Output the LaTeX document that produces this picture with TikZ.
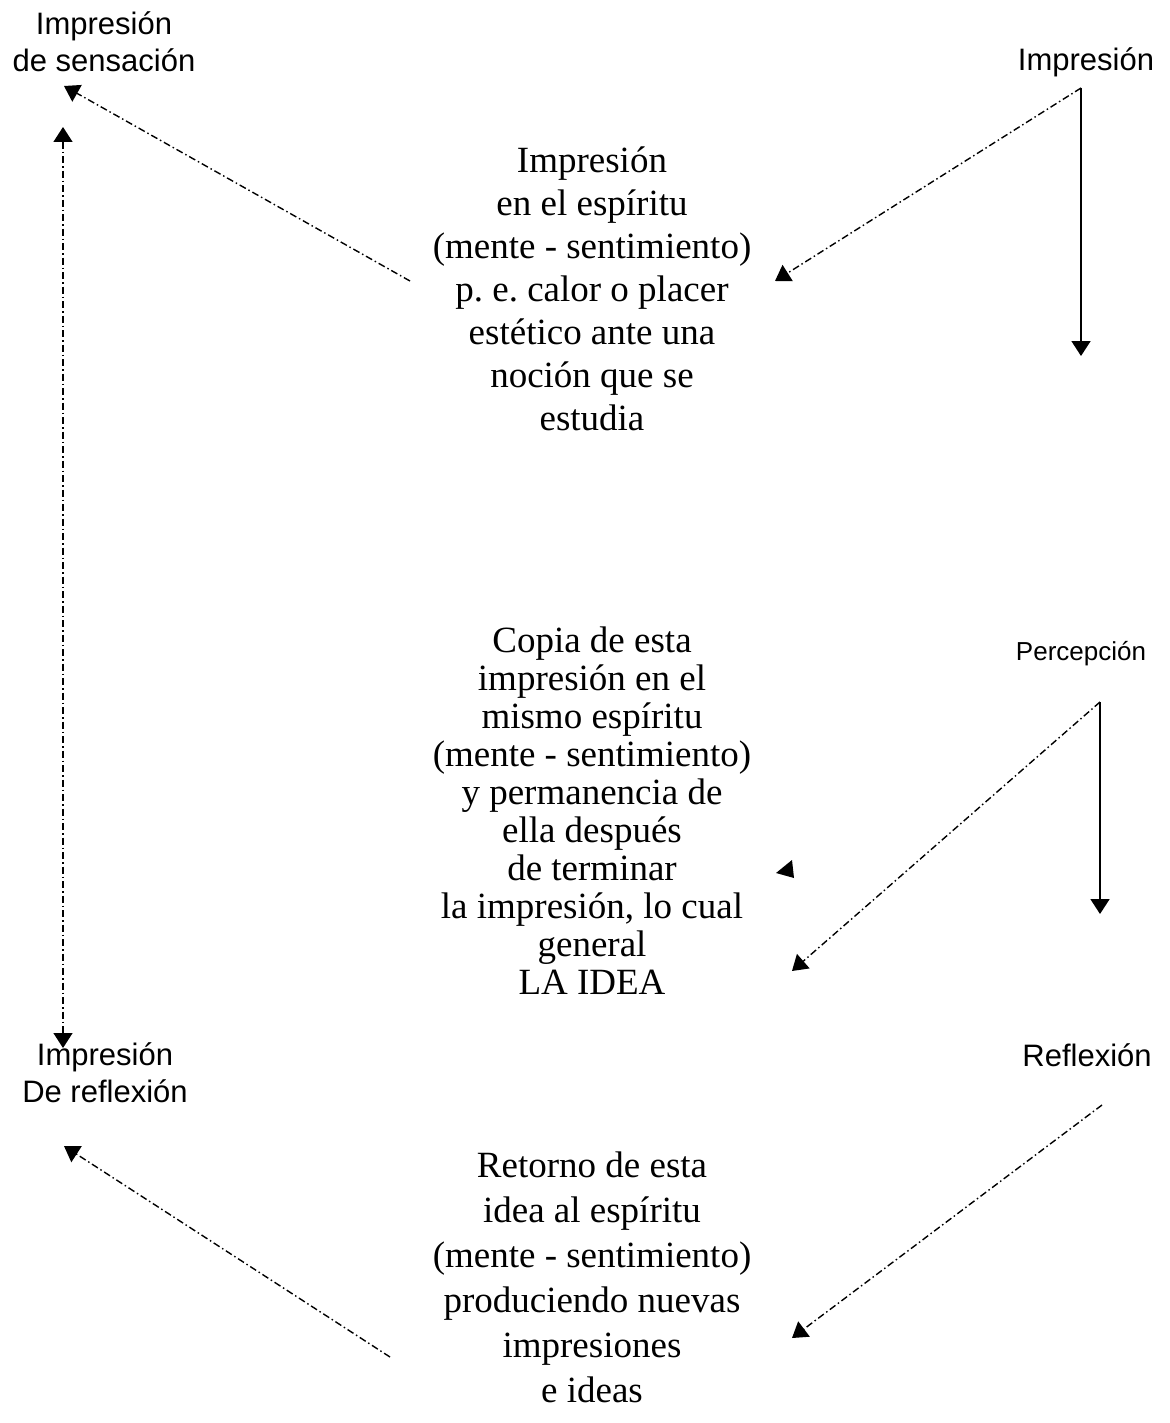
\documentclass[tikz,border=0pt]{standalone}
\usepackage{fontspec}
\setmainfont{Liberation Serif}
\newfontfamily\labelfont{Liberation Sans}
\usetikzlibrary{arrows.meta}
\frenchspacing

% Multi-line nodes are placed by the baseline of their last line.
\tikzset{
  sidelabel/.style={font=\labelfont\fontsize{31}{37}\selectfont, align=center, inner sep=0pt, anchor=base},
  smalllabel/.style={font=\labelfont\fontsize{26}{31}\selectfont, align=center, inner sep=0pt, anchor=base},
  bodytext/.style={font=\fontsize{37}{43}\selectfont, align=center, inner sep=0pt, anchor=base},
  head/.tip={Triangle[length=15pt,width=19pt]},
  tip/.style={-head},
  solidarrow/.style={tip, line width=1.8pt},
  dashdot/.style={line width=1.4pt, dash pattern=on 7pt off 3pt on 1.5pt off 3pt},
  dasharrow/.style={tip, dashdot},
}

\begin{document}
\begin{tikzpicture}[x=1pt, y=-1pt]
  \useasboundingbox (0,0) rectangle (1169,1423);

  % side labels
  \node[sidelabel] (sens) at (104,72) {Impresión\\de sensación};
  \node[sidelabel] (refl) at (105,1102) {Impresión\\De reflexión};
  \node[sidelabel] (imp) at (1086,71) {Impresión};
  \node[smalllabel] (perc) at (1081,660) {Percepción};
  \node[sidelabel] (reflx) at (1087,1066) {Reflexión};

  % central texts
  \node[bodytext] (t1) at (592,430) {Impresión\\en el espíritu\\(mente - sentimiento)\\p. e. calor o placer\\estético ante una\\noción que se\\estudia};
  \node[bodytext, font=\fontsize{37}{38}\selectfont] (t2) at (592,994) {Copia de esta\\impresión en el\\mismo espíritu\\(mente - sentimiento)\\y permanencia de\\ella después\\de terminar\\la impresión, lo cual\\general\\LA IDEA};
  \node[bodytext, font=\fontsize{37}{45}\selectfont] (t3) at (592,1402) {Retorno de esta\\idea al espíritu\\(mente - sentimiento)\\produciendo nuevas\\impresiones\\e ideas};

  % connector end points
  \coordinate (impfoot) at (1081,88);
  \coordinate (impdown) at (1081,356);
  \coordinate (t1right) at (775,281);
  \coordinate (t1left) at (410,281);
  \coordinate (senstip) at (64,86);
  \coordinate (vtop) at (63,127);
  \coordinate (vbot) at (63,1048);
  \coordinate (percfoot) at (1100,702);
  \coordinate (percdown) at (1100,914);
  \coordinate (t2right) at (792,971);
  \coordinate (reflxfoot) at (1102,1105);
  \coordinate (t3right) at (792,1338);
  \coordinate (t3left) at (390,1357);
  \coordinate (refltip) at (64,1146);

  % connectors
  \draw[solidarrow] (impfoot) -- (impdown);
  \draw[dasharrow] (impfoot) -- (t1right);
  \draw[dasharrow] (t1left) -- (senstip);
  \draw[dashdot, head-head] (vtop) -- (vbot);
  \draw[solidarrow] (percfoot) -- (percdown);
  \draw[dasharrow] (percfoot) -- (t2right);
  \draw[dasharrow] (reflxfoot) -- (t3right);
  \draw[dasharrow] (t3left) -- (refltip);

  % lone arrowhead beside the middle text
  \fill (776,873) -- (792,860) -- (794,878) -- cycle;
\end{tikzpicture}
\end{document}
